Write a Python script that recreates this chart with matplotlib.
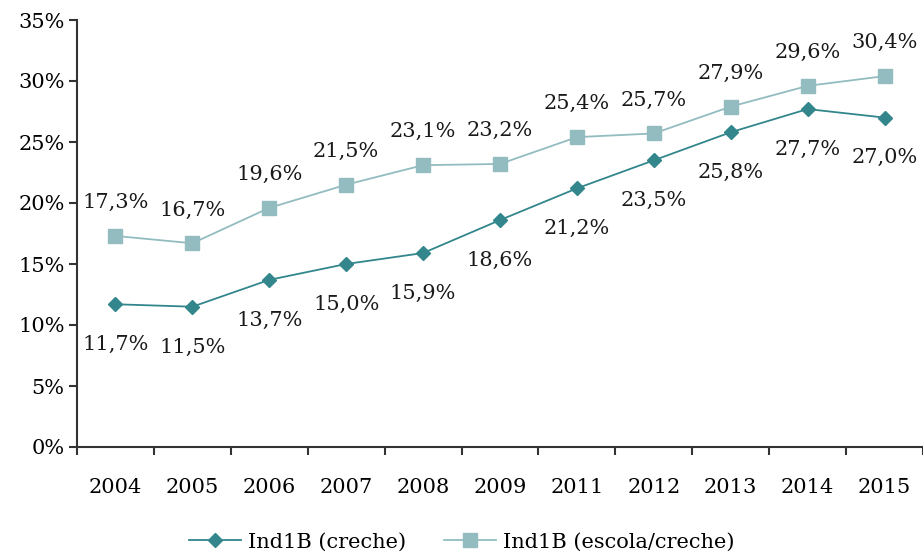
import matplotlib.pyplot as plt
import numpy as np

plt.rcParams['font.family'] = ['DejaVu Serif']

years = ["2004", "2005", "2006", "2007", "2008", "2009", "2011", "2012", "2013", "2014", "2015"]
creche = [11.7, 11.5, 13.7, 15.0, 15.9, 18.6, 21.2, 23.5, 25.8, 27.7, 27.0]
escola = [17.3, 16.7, 19.6, 21.5, 23.1, 23.2, 25.4, 25.7, 27.9, 29.6, 30.4]

dark = "#32868c"
light = "#93bcc0"
axis_col = "#333333"
fs = 15

fig = plt.figure(figsize=(9.23, 5.57), dpi=100)
ax = fig.add_axes([77 / 923, 110 / 557, 846 / 923, 427 / 557])

x = np.arange(len(years))
ax.plot(x, creche, color=dark, lw=1.3, marker="D", ms=7.5, label="Ind1B (creche)")
ax.plot(x, escola, color=light, lw=1.3, marker="s", ms=9.5, label="Ind1B (escola/creche)")

def fmt(v):
    return f"{v:.1f}%".replace(".", ",")

for xi, v in zip(x, escola):
    ax.annotate(fmt(v), (xi, v), xytext=(0, 24), textcoords="offset points",
                ha="center", va="center", fontsize=fs, color="#1a1a1a")
for xi, v in zip(x, creche):
    ax.annotate(fmt(v), (xi, v), xytext=(0, -29), textcoords="offset points",
                ha="center", va="center", fontsize=fs, color="#1a1a1a")

ax.set_xlim(-0.5, len(years) - 0.5)
ax.set_ylim(0, 35)
ax.set_yticks(range(0, 36, 5))
ax.set_yticklabels([f"{t}%" for t in range(0, 36, 5)], fontsize=fs)
ax.set_xticks(x)
ax.set_xticklabels(years, fontsize=fs)
ax.set_xticks(np.arange(-0.5, len(years), 1), minor=True)
ax.tick_params(axis="x", which="major", length=0, pad=22)
ax.tick_params(axis="x", which="minor", length=6, width=1.5, color=axis_col, direction="out")
ax.tick_params(axis="y", length=6, width=1.5, color=axis_col, direction="out", pad=3)

for s in ["top", "right"]:
    ax.spines[s].set_visible(False)
for s in ["left", "bottom"]:
    ax.spines[s].set_color(axis_col)
    ax.spines[s].set_linewidth(1.5)

# legend sits below the axes
fig.legend(loc="center", bbox_to_anchor=(0.5, 15 / 557), ncol=2, frameon=False,
           fontsize=fs, handlelength=2.5, columnspacing=1.8, handletextpad=0.35)

fig.savefig("out.png", dpi=100)
